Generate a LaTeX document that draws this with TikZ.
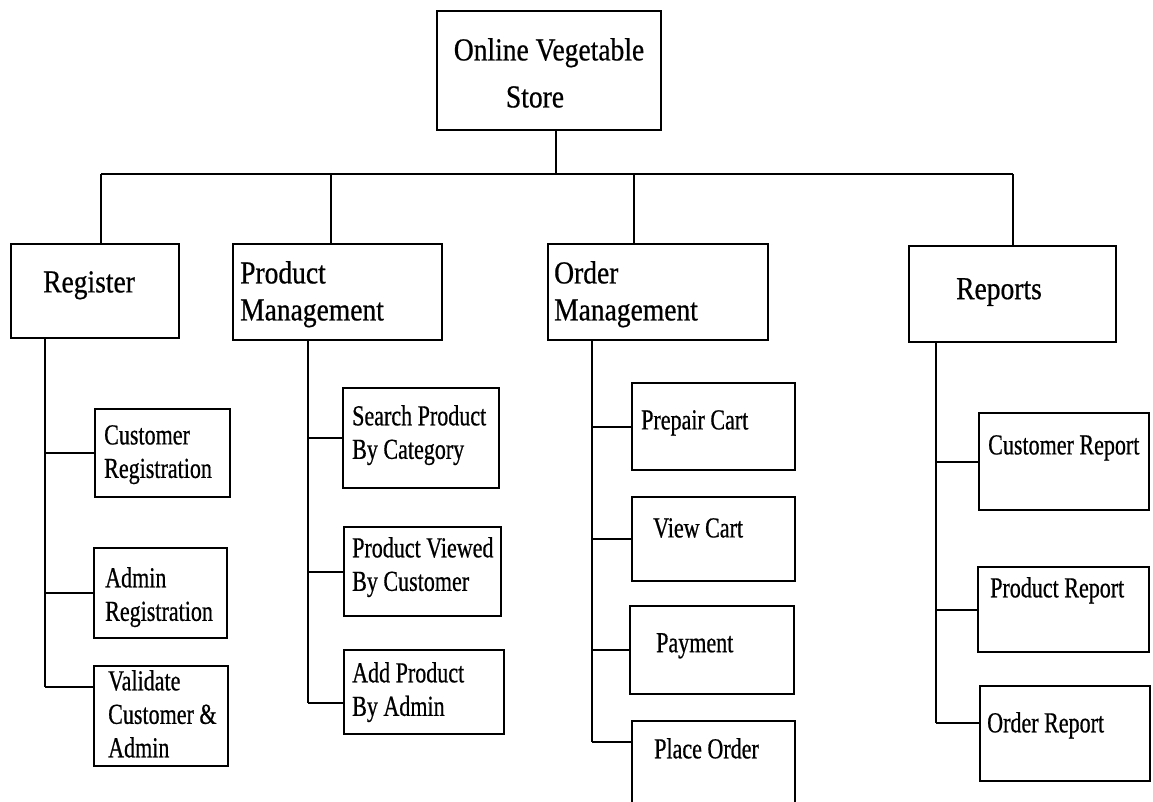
\documentclass[tikz,border=0pt]{standalone}
\usepackage{fontspec}
\setmainfont{Liberation Serif}[FakeStretch=0.86,FakeBold=0.6]
\newfontfamily\childf{Liberation Serif}[FakeStretch=0.76,FakeBold=0.6]
\newcommand\mkbox[5]{\node[box, minimum width={#4-#2}, minimum height={#5-#3}] (#1) at ({(#2+#4)/2},{(#3+#5)/2}) {};}
\tikzset{
  box/.style={draw, line width=2pt, inner sep=0pt, outer sep=0pt, fill=white},
  conn/.style={line width=2pt},
  toptext/.style={inner sep=0pt, align=center, anchor=north, font=\fontsize{32}{47}\selectfont},
  lvltext/.style={inner sep=0pt, align=left, anchor=north west, font=\fontsize{32}{37}\selectfont},
  chtext/.style={inner sep=0pt, align=left, anchor=north west, font=\childf\fontsize{29}{33.5}\selectfont}
}
\begin{document}
\begin{tikzpicture}[x=1pt,y=-1pt]
\useasboundingbox (0,0) rectangle (1153,801);
\clip (0,0) rectangle (1153,801);
\fill[white] (0,0) rectangle (1153,801);
% coordinates
\coordinate (j0) at (556,174);
\coordinate (d1) at (101,174);
\coordinate (d2) at (331,174);
\coordinate (d3) at (634,174);
\coordinate (d4) at (1013,174);
\coordinate (t1) at (45,687);
\coordinate (t2) at (308,703);
\coordinate (t3) at (592,742);
\coordinate (t4) at (936,723);
% boxes
\mkbox{top}{437}{11}{661}{130}
\mkbox{reg}{11}{244}{179}{338}
\mkbox{pm}{233}{244}{442}{340}
\mkbox{om}{548}{244}{768}{340}
\mkbox{rep}{909}{246}{1116}{342}
\mkbox{cr}{95}{409}{230}{497}
\mkbox{ar}{94}{548}{227}{638}
\mkbox{vca}{94}{666}{228}{766}
\mkbox{spc}{343}{388}{499}{488}
\mkbox{pvc}{344}{527}{501}{616}
\mkbox{apa}{344}{650}{504}{734}
\mkbox{pc}{632}{383}{795}{470}
\mkbox{vc}{632}{497}{795}{581}
\mkbox{pay}{630}{606}{794}{694}
\mkbox{po}{632}{721}{795}{810}
\mkbox{cre}{979}{413}{1149}{510}
\mkbox{pre}{978}{567}{1149}{652}
\mkbox{ore}{980}{686}{1150}{781}
% texts
\node[toptext] (toplbl) at (549,38) {Online Vegetable\\Store\kern28pt};
\node[lvltext] (reglbl) at (43,271) {Register};
\node[lvltext] (pmlbl) at (240,261) {Product\\Management};
\node[lvltext] (omlbl) at (554,261) {Order\\Management};
\node[lvltext] (replbl) at (956,278) {Reports};
\node[chtext] (crlbl) at (104,425) {Customer\\Registration};
\node[chtext] (arlbl) at (105,567) {Admin\\Registration};
\node[chtext] (vcalbl) at (108,670) {Validate\\Customer \&\\Admin};
\node[chtext] (spclbl) at (352,405) {Search Product\\By Category};
\node[chtext] (pvclbl) at (352,537) {Product Viewed\\By Customer};
\node[chtext] (apalbl) at (352,662) {Add Product\\By Admin};
\node[chtext] (pclbl) at (641,410) {Prepair Cart};
\node[chtext] (vclbl) at (653,518) {View Cart};
\node[chtext] (paylbl) at (656,633) {Payment};
\node[chtext] (polbl) at (654,738) {Place Order};
\node[chtext] (crelbl) at (988,435) {Customer Report};
\node[chtext] (prelbl) at (990,577) {Product Report};
\node[chtext] (orelbl) at (987,712) {Order Report};
% top level connectors
\draw[conn] (j0 |- top.south) -- (j0);
\draw[conn] (d1) -- (d4);
\draw[conn] (d1) -- (d1 |- reg.north);
\draw[conn] (d2) -- (d2 |- pm.north);
\draw[conn] (d3) -- (d3 |- om.north);
\draw[conn] (d4) -- (d4 |- rep.north);
% register branch
\draw[conn] (reg.south -| t1) -- (t1);
\draw[conn] (t1 |- cr.west) -- (cr.west);
\draw[conn] (t1 |- ar.west) -- (ar.west);
\draw[conn] (t1) -- ([yshift=29pt]vca.west);
% product branch
\draw[conn] (pm.south -| t2) -- (t2);
\draw[conn] (t2 |- spc.west) -- (spc.west);
\draw[conn] (t2 |- pvc.west) -- (pvc.west);
\draw[conn] (t2) -- ([yshift=-11pt]apa.west);
% order branch
\draw[conn] (om.south -| t3) -- (t3);
\draw[conn] (t3 |- pc.west) -- (pc.west);
\draw[conn] (t3 |- vc.west) -- (vc.west);
\draw[conn] (t3 |- pay.west) -- (pay.west);
\draw[conn] (t3) -- ([yshift=23.5pt]po.west);
% reports branch
\draw[conn] (rep.south -| t4) -- (t4);
\draw[conn] (t4 |- cre.west) -- (cre.west);
\draw[conn] (t4 |- pre.west) -- (pre.west);
\draw[conn] (t4) -- ([yshift=10.5pt]ore.west);
\end{tikzpicture}
\end{document}
